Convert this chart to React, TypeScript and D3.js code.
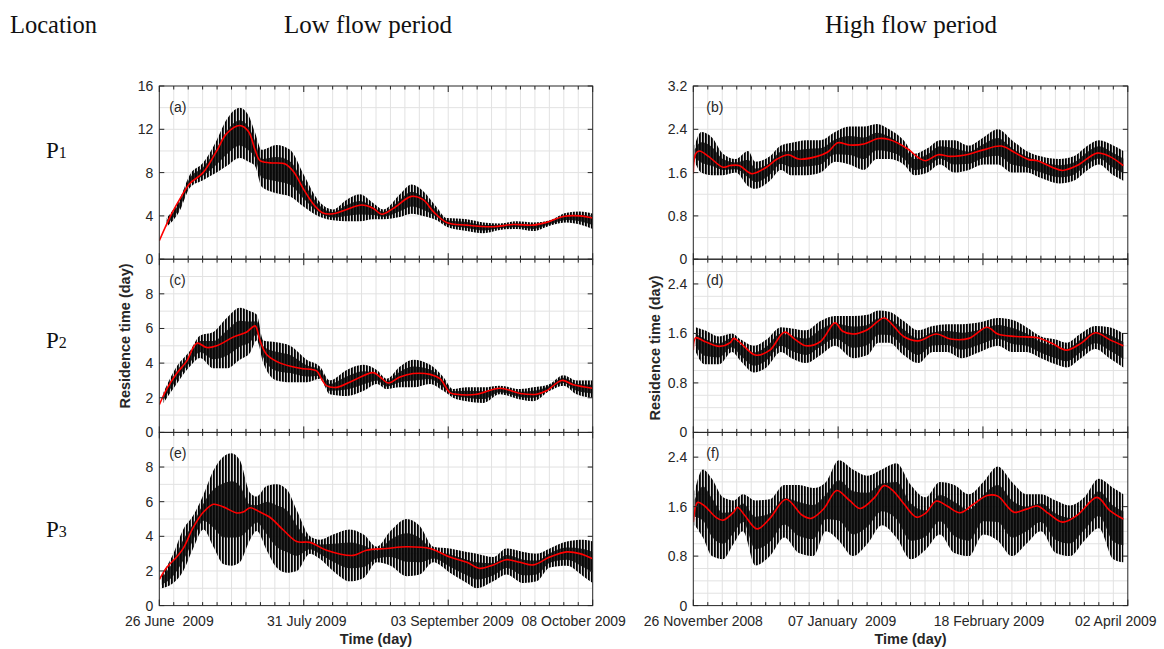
import React, { useRef, useEffect } from 'react'
import * as d3 from 'd3'

type Pt = [number, number]
type Band = [number, number, number]

// tick labels on the time axes
const lowFlowDates = ['26 June  2009', '31 July 2009', '03 September 2009', '08 October 2009']
const highFlowDates = ['26 November 2008', '07 January  2009', '18 February 2009', '02 April 2009']
const locations = ['1', '2', '3']

// red line: [day, residence time]
const meanA: Pt[] = [[0, 1.7], [3.0, 4.2], [5.5, 5.9], [7.4, 7.0], [10.6, 8.0], [13.9, 10.0], [16.3, 11.6], [19.5, 12.35], [21.6, 11.8], [23.2, 10.1], [24.4, 9.1], [26.9, 8.9], [30.5, 8.8], [32.5, 8.1], [34.9, 6.5], [37.3, 5.1], [39.5, 4.3], [42.1, 4.2], [45.4, 4.6], [49.0, 5.0], [51.8, 4.7], [53.9, 4.15], [56.7, 4.7], [61.1, 5.8], [63.9, 5.5], [66.4, 4.4], [69.6, 3.4], [74.5, 3.15], [80.9, 3.0], [85.7, 3.2], [90.6, 3.15], [93.8, 3.4], [97.9, 3.95], [101.9, 4.0], [105, 3.8]]
const meanC: Pt[] = [[0, 1.6], [1.8, 2.5], [4.2, 3.4], [6.6, 4.1], [9.1, 5.15], [11.5, 4.9], [13.9, 5.0], [17.9, 5.5], [21.2, 5.8], [23.2, 6.15], [24.4, 5.3], [26.0, 4.5], [29.3, 4.0], [34.1, 3.7], [38.1, 3.55], [39.3, 3.1], [40.5, 2.7], [43.0, 2.6], [47.0, 3.0], [51.8, 3.45], [53.5, 3.2], [55.5, 2.85], [58.3, 3.2], [61.5, 3.4], [65.6, 3.35], [68, 3.1], [70.4, 2.3], [72, 2.2], [76.9, 2.2], [82.5, 2.55], [87.4, 2.25], [91.4, 2.2], [93.8, 2.4], [97.5, 3.0], [100.3, 2.75], [105, 2.55]]
const meanE: Pt[] = [[0, 1.5], [1.8, 2.2], [4.2, 2.8], [5.8, 3.3], [8.2, 4.5], [10.7, 5.4], [13.1, 5.85], [15.5, 5.7], [18.7, 5.35], [20.3, 5.4], [22, 5.65], [24.4, 5.4], [26.8, 5.1], [30.1, 4.35], [33.3, 3.7], [36.5, 3.65], [40.5, 3.2], [47.0, 2.9], [50.2, 3.2], [55.1, 3.3], [59.9, 3.4], [65.6, 3.3], [70.4, 2.8], [74.5, 2.5], [77.7, 2.15], [80.9, 2.35], [84.1, 2.65], [87.4, 2.5], [90.6, 2.35], [94.6, 2.8], [98.7, 3.1], [101.9, 3.0], [105, 2.7]]
const meanB: Pt[] = [[0, 1.58], [0.7, 1.95], [1.8, 2.0], [4.4, 1.9], [8.6, 1.7], [10.7, 1.73], [13.3, 1.73], [17.0, 1.58], [21.2, 1.7], [24.3, 1.85], [27.5, 1.93], [30.6, 1.85], [35.9, 1.9], [39, 1.98], [41.9, 2.15], [45.3, 2.11], [49.5, 2.13], [53.7, 2.23], [56.8, 2.21], [62.1, 2.04], [65.2, 1.88], [67.3, 1.82], [71.0, 1.93], [74.6, 1.9], [79.9, 1.94], [84.1, 2.02], [89.3, 2.09], [93.5, 1.96], [97.2, 1.84], [99.8, 1.82], [104, 1.7], [107.1, 1.64], [111.3, 1.73], [117.1, 1.96], [120.7, 1.9], [124.7, 1.73]]
const meanD: Pt[] = [[0, 1.33], [0.7, 1.53], [3.3, 1.47], [7.5, 1.39], [10.7, 1.45], [11.7, 1.52], [13.8, 1.44], [18.0, 1.25], [22.2, 1.33], [26.4, 1.62], [29.6, 1.5], [32.7, 1.4], [36.9, 1.47], [41.1, 1.77], [43.2, 1.64], [46.3, 1.59], [50.5, 1.66], [55.3, 1.85], [57.9, 1.73], [61.0, 1.55], [65.2, 1.48], [70.5, 1.59], [74.6, 1.51], [79.9, 1.52], [85.2, 1.7], [88.3, 1.59], [93.5, 1.55], [99.8, 1.53], [104, 1.44], [108.2, 1.33], [112.4, 1.44], [116.6, 1.61], [120.7, 1.5], [124.7, 1.4]]
const meanF: Pt[] = [[0, 1.35], [1.3, 1.67], [3.3, 1.61], [6.5, 1.43], [8.6, 1.38], [11.7, 1.51], [12.8, 1.59], [14.9, 1.46], [18.5, 1.24], [22.2, 1.41], [26.9, 1.72], [31.6, 1.46], [34.2, 1.41], [37.9, 1.57], [41.6, 1.86], [45.3, 1.7], [48.4, 1.57], [52.6, 1.75], [55.3, 1.94], [57.9, 1.86], [61.0, 1.65], [64.7, 1.43], [67.3, 1.49], [70.5, 1.69], [73.6, 1.61], [77.3, 1.5], [81.0, 1.63], [85.2, 1.78], [88.3, 1.77], [93.0, 1.51], [96.6, 1.56], [99.8, 1.61], [103, 1.49], [107.1, 1.35], [111.3, 1.46], [117.1, 1.75], [120.7, 1.54], [124.7, 1.4]]

// black tidal signal, envelope: [day, low, high]
const bandA: Band[] = [[1.8, 3.0, 3.8], [5.0, 4.5, 5.6], [7.4, 6.6, 7.8], [10.6, 7.3, 8.9], [13.9, 8.0, 11.0], [16.3, 8.6, 12.9], [19.5, 9.35, 14.0], [21.6, 9.0, 13.3], [23.2, 8.6, 11.7], [24.8, 6.7, 10.1], [28.4, 6.1, 10.55], [31.7, 5.8, 10.1], [35, 4.85, 7.8], [38.4, 4.0, 5.5], [42.1, 3.6, 4.6], [45.4, 3.5, 5.5], [48.6, 3.5, 6.0], [51.8, 3.7, 5.2], [54.3, 3.7, 4.6], [58.3, 3.9, 6.0], [61.1, 4.2, 6.9], [63.9, 4.0, 6.3], [67.2, 3.6, 4.8], [69.6, 3.0, 3.8], [74.5, 2.6, 3.7], [78.5, 2.4, 3.4], [82.5, 2.7, 3.3], [86.6, 2.8, 3.5], [90.6, 2.6, 3.4], [94.6, 3.1, 3.6], [98.7, 3.4, 4.3], [101.9, 3.2, 4.4], [105, 2.8, 4.2]]
const bandC: Band[] = [[1.0, 1.7, 2.3], [4.2, 2.8, 3.8], [7.4, 3.8, 4.7], [9.9, 4.3, 5.6], [13.1, 3.7, 5.8], [16.3, 3.7, 6.6], [19.5, 4.2, 7.2], [22, 4.6, 7.0], [23.6, 5.3, 6.8], [25.2, 4.0, 5.3], [28.4, 3.0, 5.2], [31.7, 2.9, 5.0], [35.7, 2.9, 4.2], [38.9, 3.1, 3.8], [41.3, 2.2, 3.0], [45.4, 2.1, 3.6], [49.5, 2.4, 3.9], [52.7, 2.8, 3.6], [55.1, 2.5, 3.1], [58.3, 2.6, 3.8], [61.5, 2.6, 4.2], [65.6, 2.8, 3.9], [68.8, 2.4, 3.2], [71.2, 2.0, 2.5], [74.5, 1.8, 2.6], [78.5, 1.7, 2.6], [82.5, 2.2, 2.7], [87.4, 1.9, 2.5], [90.6, 1.8, 2.6], [94.6, 2.4, 2.8], [97.9, 2.7, 3.3], [101.1, 2.2, 3.0], [105, 2.0, 3.0]]
const bandE: Band[] = [[0.6, 1.0, 1.8], [3.4, 1.3, 3.0], [5.8, 2.0, 4.4], [8.2, 3.3, 5.2], [10.7, 4.4, 6.4], [13.1, 3.4, 7.8], [15.5, 2.4, 8.6], [17.5, 2.3, 8.8], [19.5, 2.5, 8.4], [22, 3.8, 6.5], [23.6, 4.3, 6.3], [26, 3.2, 6.9], [28.4, 2.2, 7.0], [30.9, 1.9, 6.7], [33.3, 2.0, 5.5], [36.5, 3.0, 4.0], [38.9, 2.7, 3.8], [42.1, 2.0, 4.1], [46.2, 1.4, 4.4], [49.5, 1.6, 4.1], [52.7, 2.5, 3.4], [56, 2.3, 4.3], [59.9, 1.7, 5.0], [63.1, 1.8, 4.6], [66.4, 2.5, 3.4], [70.4, 1.9, 3.3], [74.5, 1.3, 3.1], [76.9, 1.0, 3.0], [80.9, 1.4, 2.8], [84.1, 1.8, 3.3], [88.2, 1.3, 3.1], [91.4, 1.4, 3.0], [94.6, 2.2, 3.3], [98.7, 2.3, 3.7], [102.7, 1.7, 3.8], [105, 1.3, 3.7]]
const bandB: Band[] = [[0.4, 1.8, 2.1], [2.3, 1.6, 2.35], [5.4, 1.55, 2.25], [8.6, 1.55, 1.95], [12.3, 1.6, 1.85], [15.9, 1.35, 2.0], [18.0, 1.3, 1.8], [22.2, 1.45, 1.9], [25.4, 1.65, 2.1], [28.5, 1.55, 2.15], [32.7, 1.55, 2.2], [36.9, 1.6, 2.2], [41.1, 1.8, 2.35], [45.3, 1.75, 2.45], [49.5, 1.65, 2.45], [53.2, 1.85, 2.5], [56.8, 1.85, 2.4], [61.0, 1.75, 2.2], [64.2, 1.55, 1.95], [67.9, 1.6, 2.05], [71.5, 1.75, 2.2], [75.7, 1.6, 2.2], [79.9, 1.65, 2.1], [84.1, 1.75, 2.25], [88.3, 1.75, 2.4], [92.4, 1.6, 2.2], [96.6, 1.6, 2.0], [100.8, 1.5, 1.9], [106.1, 1.4, 1.85], [110.3, 1.45, 1.9], [114.4, 1.65, 2.1], [117.6, 1.75, 2.2], [121.8, 1.55, 2.1], [124.7, 1.45, 2.0]]
const bandD: Band[] = [[0.7, 1.3, 1.7], [3.3, 1.1, 1.65], [7.5, 1.1, 1.55], [11.2, 1.3, 1.6], [13.8, 1.15, 1.5], [17.5, 0.97, 1.4], [21.2, 1.05, 1.5], [25.4, 1.3, 1.7], [28.5, 1.2, 1.68], [32.7, 1.12, 1.65], [36.9, 1.25, 1.8], [41.1, 1.4, 1.88], [46.3, 1.2, 1.88], [50.5, 1.25, 1.9], [53.7, 1.45, 1.97], [56.8, 1.45, 1.95], [61.0, 1.25, 1.8], [65.2, 1.12, 1.65], [69.4, 1.3, 1.72], [73.6, 1.3, 1.75], [77.8, 1.2, 1.75], [83.1, 1.3, 1.78], [88.3, 1.4, 1.85], [92.4, 1.3, 1.82], [96.6, 1.3, 1.7], [100.8, 1.2, 1.55], [105.1, 1.1, 1.5], [108.2, 1.05, 1.45], [112.4, 1.2, 1.6], [116.6, 1.35, 1.72], [120.7, 1.2, 1.7], [124.7, 1.05, 1.6]]
const bandF: Band[] = [[0.4, 1.3, 1.85], [2.8, 1.1, 2.2], [5.4, 0.8, 2.05], [8.6, 0.75, 1.75], [11.7, 1.0, 1.7], [14.4, 1.2, 1.8], [18.0, 0.65, 1.7], [22.2, 0.8, 1.72], [26.4, 1.1, 1.95], [30.6, 0.85, 1.95], [34.8, 0.8, 1.9], [38.5, 1.2, 2.0], [42.2, 1.05, 2.35], [46.3, 0.8, 2.2], [50.5, 1.0, 2.1], [54.7, 1.3, 2.2], [58.9, 1.1, 2.3], [63.1, 0.75, 1.95], [67.3, 0.9, 1.75], [71.5, 1.15, 2.0], [75.7, 0.85, 1.95], [79.9, 0.8, 1.8], [84.1, 1.15, 2.0], [88.3, 1.05, 2.25], [92.4, 0.8, 2.0], [96.6, 1.0, 1.8], [100.8, 1.2, 1.8], [105.1, 0.85, 1.7], [109.2, 0.8, 1.62], [113.4, 1.05, 1.75], [117.6, 1.25, 2.05], [121.8, 0.75, 1.9], [124.7, 0.7, 1.8]]

const W = 1164
const H = 649
const ROW_TOP = 86
const ROW_H = 173.2
const SANS = 'Liberation Sans, Arial, Helvetica, sans-serif'
const SERIF = 'Palatino Linotype, Book Antiqua, Palatino, Liberation Serif, serif'
const INK = '#262626'

const cols = [
    { x0: 159.3, x1: 592.7, days: 105, major: 35, minor: 3.5, labels: lowFlowDates, labelDx: [10, 3, 4, -19], yLabelX: 125, yLabelY: 336 },
    { x0: 693.3, x1: 1127.8, days: 126, major: 42, minor: 4.2, labels: highFlowDates, labelDx: [10, 4, 6, -12], yLabelX: 655, yLabelY: 348 },
]

const panels = [
    { tag: '(a)', col: 0, row: 0, yMax: 16, yTicks: [0, 4, 8, 12, 16], grid: 2, mean: meanA, band: bandA },
    { tag: '(c)', col: 0, row: 1, yMax: 10, yTicks: [0, 2, 4, 6, 8], grid: 1, mean: meanC, band: bandC },
    { tag: '(e)', col: 0, row: 2, yMax: 10, yTicks: [0, 2, 4, 6, 8], grid: 1, mean: meanE, band: bandE },
    { tag: '(b)', col: 1, row: 0, yMax: 3.2, yTicks: [0, 0.8, 1.6, 2.4, 3.2], grid: 0.4, mean: meanB, band: bandB },
    { tag: '(d)', col: 1, row: 1, yMax: 2.8, yTicks: [0, 0.8, 1.6, 2.4], grid: 0.2, mean: meanD, band: bandD },
    { tag: '(f)', col: 1, row: 2, yMax: 2.8, yTicks: [0, 0.8, 1.6, 2.4], grid: 0.2, mean: meanF, band: bandF },
]

export default function App() {
    const svgEl = useRef<SVGSVGElement>(null)

    useEffect(() => {
        if (!svgEl.current) return
        const svg = d3.select(svgEl.current)
        svg.selectAll('*').remove()

        const defs = svg.append('defs')
        // vertical strokes give the band its "many tidal cycles" look
        const pat = defs.append('pattern')
            .attr('id', 'tide')
            .attr('patternUnits', 'userSpaceOnUse')
            .attr('width', 3)
            .attr('height', 10)
        pat.append('rect').attr('width', 3).attr('height', 10).attr('fill', 'rgba(0,0,0,0.15)')
        pat.append('rect').attr('width', 1.8).attr('height', 10).attr('fill', '#000')

        panels.forEach((p, k) => {
            const c = cols[p.col]
            const top = ROW_TOP + p.row * ROW_H
            const bot = top + ROW_H
            const x = d3.scaleLinear().domain([0, c.days]).range([c.x0, c.x1])
            const y = d3.scaleLinear().domain([0, p.yMax]).range([bot, top])
            const g = svg.append('g')

            defs.append('clipPath').attr('id', `clip${k}`)
                .append('rect')
                .attr('x', c.x0).attr('y', top)
                .attr('width', c.x1 - c.x0).attr('height', ROW_H)

            // grid
            const minors = d3.range(0, c.days + 1e-6, c.minor)
            g.append('g').selectAll('line')
                .data(minors.slice(1, -1))
                .join('line')
                .attr('x1', d => x(d)).attr('x2', d => x(d))
                .attr('y1', top).attr('y2', bot)
                .attr('stroke', '#e2e2e2').attr('stroke-width', 1)
            const hs = d3.range(p.grid, p.yMax - 1e-6, p.grid)
            g.append('g').selectAll('line')
                .data(hs)
                .join('line')
                .attr('x1', c.x0).attr('x2', c.x1)
                .attr('y1', d => y(d)).attr('y2', d => y(d))
                .attr('stroke', '#e2e2e2').attr('stroke-width', 1)

            // data
            const plot = g.append('g').attr('clip-path', `url(#clip${k})`)
            const area = d3.area<Band>()
                .x(d => x(d[0]))
                .y0(d => y(d[1]))
                .y1(d => y(d[2]))
                .curve(d3.curveMonotoneX)
            plot.append('path').datum(p.band).attr('d', area).attr('fill', 'url(#tide)')
            const core = d3.area<Band>()
                .x(d => x(d[0]))
                .y0(d => y(d[1] + (d[2] - d[1]) * 0.25))
                .y1(d => y(d[2] - (d[2] - d[1]) * 0.25))
                .curve(d3.curveMonotoneX)
            plot.append('path').datum(p.band).attr('d', core).attr('fill', '#0a0a0a').attr('opacity', 0.85)
            const line = d3.line<Pt>()
                .x(d => x(d[0]))
                .y(d => y(d[1]))
                .curve(d3.curveCatmullRom)
            plot.append('path').datum(p.mean).attr('d', line)
                .attr('fill', 'none').attr('stroke', '#ff0000').attr('stroke-width', 1.6)

            // box
            g.append('rect')
                .attr('x', c.x0).attr('y', top)
                .attr('width', c.x1 - c.x0).attr('height', ROW_H)
                .attr('fill', 'none').attr('stroke', INK).attr('stroke-width', 1)

            // x ticks, top and bottom, pointing inward
            const isMajor = (d: number) => Math.abs(d / c.major - Math.round(d / c.major)) < 1e-6
            const xt = g.append('g')
            minors.forEach(d => {
                const len = isMajor(d) ? 6 : 3.5
                xt.append('line').attr('x1', x(d)).attr('x2', x(d)).attr('y1', bot).attr('y2', bot - len)
                    .attr('stroke', INK).attr('stroke-width', 1)
                xt.append('line').attr('x1', x(d)).attr('x2', x(d)).attr('y1', top).attr('y2', top + len)
                    .attr('stroke', INK).attr('stroke-width', 1)
            })

            // y ticks + labels
            p.yTicks.forEach(v => {
                g.append('line').attr('x1', c.x0).attr('x2', c.x0 + 5).attr('y1', y(v)).attr('y2', y(v))
                    .attr('stroke', INK)
                g.append('line').attr('x1', c.x1).attr('x2', c.x1 - 5).attr('y1', y(v)).attr('y2', y(v))
                    .attr('stroke', INK)
                g.append('text')
                    .attr('x', c.x0 - 6).attr('y', y(v) + 5)
                    .attr('text-anchor', 'end')
                    .attr('font-family', SANS).attr('font-size', 14).attr('fill', INK)
                    .text(String(v))
            })

            g.append('text')
                .attr('x', c.x0 + (p.col === 0 ? 10 : 13)).attr('y', top + 26)
                .attr('font-family', SANS).attr('font-size', 14).attr('fill', INK)
                .text(p.tag)

            if (p.row === 2) {
                c.labels.forEach((lab, i) => {
                    g.append('text')
                        .attr('x', x(i * c.major) + c.labelDx[i]).attr('y', 626)
                        .attr('text-anchor', 'middle')
                        .attr('font-family', SANS).attr('font-size', 14).attr('fill', INK)
                        .style('white-space', 'pre')
                        .text(lab)
                })
                g.append('text')
                    .attr('x', (c.x0 + c.x1) / 2).attr('y', 644)
                    .attr('text-anchor', 'middle')
                    .attr('font-family', SANS).attr('font-size', 14.5).attr('font-weight', 'bold').attr('fill', INK)
                    .text('Time (day)')
            }
            if (p.row === 1) {
                g.append('text')
                    .attr('transform', `translate(${c.yLabelX},${c.yLabelY}) rotate(-90)`)
                    .attr('text-anchor', 'middle')
                    .attr('dominant-baseline', 'central')
                    .attr('font-family', SANS).attr('font-size', 14.5).attr('font-weight', 'bold').attr('fill', INK)
                    .text('Residence time (day)')
            }
        })

        // headers
        const head = svg.append('g').attr('font-family', SERIF).attr('fill', '#111')
        head.append('text').attr('x', 10).attr('y', 33).attr('font-size', 24.5).text('Location')
        head.append('text').attr('x', 368).attr('y', 33).attr('font-size', 25).attr('text-anchor', 'middle').text('Low flow period')
        head.append('text').attr('x', 911).attr('y', 33).attr('font-size', 25).attr('text-anchor', 'middle').text('High flow period')

        locations.forEach((n, i) => {
            const t = head.append('text').attr('x', 46).attr('y', [158, 348, 537][i]).attr('font-size', 23)
            t.append('tspan').text('P')
            t.append('tspan').attr('font-size', 16).text(n)
        })
    }, [])

    return (
        <div style={{ position: 'absolute', left: 0, top: 0 }}>
            <svg ref={svgEl} width={W} height={H} style={{ display: 'block', background: '#fff' }} />
        </div>
    )
}
